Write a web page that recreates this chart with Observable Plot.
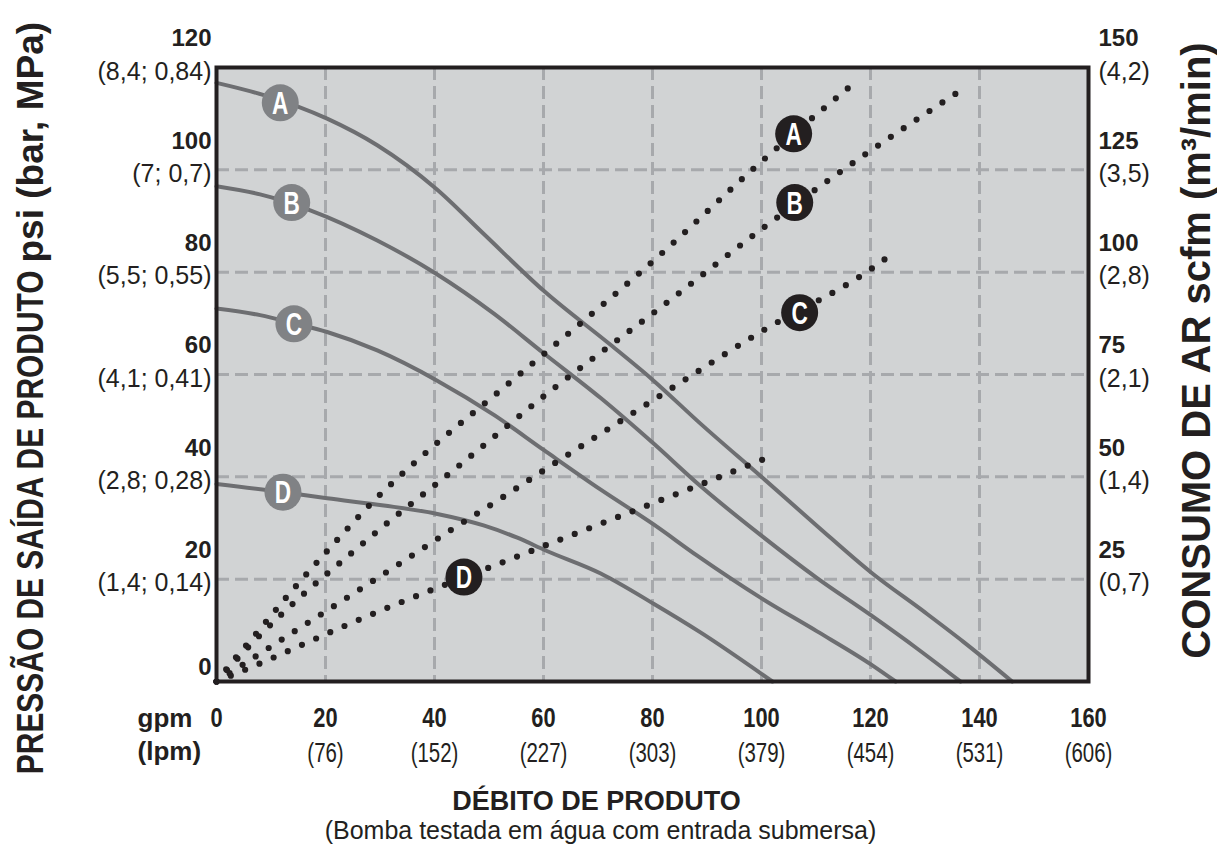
<!DOCTYPE html>
<html><head><meta charset="utf-8">
<script src="https://cdn.jsdelivr.net/npm/d3@7"></script>
<script src="https://cdn.jsdelivr.net/npm/@observablehq/plot@0.6"></script>
<style>body{margin:0;background:#fff} svg{display:block}</style>
</head><body><div id="chart"></div>
<script>
// ---- axis tick data ----
const xTicks = [0, 20, 40, 60, 80, 100, 120, 140, 160];
const lpmLabels = ["", "(76)", "(152)", "(227)", "(303)", "(379)", "(454)", "(531)", "(606)"];
const psiTicks = [0, 20, 40, 60, 80, 100, 120];
const psiSub = ["", "(1,4; 0,14)", "(2,8; 0,28)", "(4,1; 0,41)", "(5,5; 0,55)", "(7; 0,7)", "(8,4; 0,84)"];
const scfmTicks = [25, 50, 75, 100, 125, 150];
const scfmSub = ["(0,7)", "(1,4)", "(2,1)", "(2,8)", "(3,5)", "(4,2)"];

// ---- outlet pressure curves [gpm, psi] ----
const pressA = [[0,117],[8.7,114.6],[20.3,110],[29.5,104.8],[40.3,96.3],[49,87.5],[60.1,76.3],[72.3,65.8],[80.2,58.8],[88.8,50.4],[100.1,39.9],[110.2,30.4],[120,21.4],[130,13.5],[137,7.8],[146,0]];
const pressB = [[0,96.8],[8,95.2],[17.2,92.1],[29.5,86.2],[40.3,79.7],[50.9,71.9],[60.1,64.1],[70.5,55.4],[80.2,46.5],[88.8,38.2],[100.1,28.4],[110.2,20.2],[120,13],[128.6,6.4],[136.5,0]];
const pressC = [[0,72.9],[8,71.6],[14.2,70],[20.3,68.3],[29.5,64.7],[40.5,58.8],[50.9,52.1],[60.1,45.2],[70.5,37.5],[80.2,30.7],[88.2,24.6],[100.1,16.2],[110.2,9.8],[120,3.4],[124.6,0]];
const pressD = [[0,38.6],[12.2,37],[20.3,35.8],[30.7,34.4],[40.3,32.8],[49,30.5],[55.2,28.1],[60.4,25.6],[70.5,21.1],[80.2,15.2],[88.8,9.6],[102,0]];

// ---- air consumption curves [gpm, scfm] ----
const airA = [[0,0],[3,5],[6.2,10],[13.6,21.8],[21.2,33.2],[28.9,44.2],[37.4,54.7],[52.7,71.8],[81.2,104],[99.8,126.8],[117.2,146.4]];
const airB = [[0,0],[7.3,10.4],[15.5,20.8],[24,30.5],[32.7,40.2],[41.5,49.5],[61.3,71],[81.1,91],[100,110.5],[119.6,129.3],[136.1,144]];
const airC = [[0,0],[7.5,6.4],[14.6,12.5],[24.1,20.6],[33.6,28.8],[42.9,36.9],[52.5,45],[59.6,51.2],[71.4,61.3],[81,69.5],[100.1,85.6],[119.7,100.4],[124.3,104.8]];
const airD = [[0,0],[7.8,4.3],[15.4,8.8],[23.2,13.4],[31,17.8],[38.8,22],[49.4,27.5],[57.2,31.6],[72.9,39.8],[86.1,46.7],[101.7,55]];

// ---- curve labels ----
const pressLabels = [{k:"A", gpm:11.7, psi:113.1},{k:"B", gpm:13.8, psi:93.6},{k:"C", gpm:14.2, psi:69.9},{k:"D", gpm:12.2, psi:37}];
const airLabels = [{k:"A", gpm:105.9, scfm:133.8},{k:"B", gpm:106.1, scfm:117},{k:"C", gpm:107, scfm:90.1},{k:"D", gpm:45.4, scfm:25.5}];

// ---- titles ----
const yTitleCaps = "PRESSÃO DE SAÍDA DE PRODUTO";
const yTitleUnits = "psi (bar, MPa)";
const y2Title = "CONSUMO DE AR scfm (m³/min)";
const xTitle = "DÉBITO DE PRODUTO";
const xSubtitle = "(Bomba testada em água com entrada submersa)";
const xUnit = "gpm";
const xUnit2 = "(lpm)";

// right axis scale: scfm per psi (150 scfm at 120 psi)
const SCFM_PER_PSI = scfmTicks[scfmTicks.length - 1] / psiTicks[psiTicks.length - 1];

const toRows = (arr, curve, key) => arr.map(([gpm, v]) => ({curve, gpm, [key]: v}));
const pressure = [...toRows(pressA,"A","psi"), ...toRows(pressB,"B","psi"), ...toRows(pressC,"C","psi"), ...toRows(pressD,"D","psi")];
const air = [...toRows(airA,"A","scfm"), ...toRows(airB,"B","scfm"), ...toRows(airC,"C","scfm"), ...toRows(airD,"D","scfm")];

const SANS = "'Liberation Sans', Arial, Helvetica, sans-serif";
const INK = "#231f20";
const NARROW = () => "narrow";   // per-text aria-label tags used to condense glyphs
const NARROW2 = () => "narrow2";
const NARROW3 = () => "narrow3";

const chart = Plot.plot({
  width: 1217, height: 845,
  marginLeft: 216, marginRight: 129, marginTop: 67, marginBottom: 164,
  style: {fontFamily: SANS, background: "#fff", color: INK},
  x: {domain: [0, 160], axis: null},
  y: {domain: [0, 120], axis: null},
  marks: [
    Plot.frame({fill: "#d1d3d4"}),
    Plot.ruleX(xTicks.slice(1, -1), {stroke: "#a7a9ac", strokeWidth: 3, strokeDasharray: "13,6"}),
    Plot.ruleY(psiTicks.slice(1, -1), {stroke: "#a7a9ac", strokeWidth: 3, strokeDasharray: "13,6"}),
    Plot.line(pressure, {x: "gpm", y: "psi", z: "curve", stroke: "#6d6e71", strokeWidth: 4, curve: "monotone-x"}),
    Plot.line(air, {x: "gpm", y: d => d.scfm / SCFM_PER_PSI, z: "curve", stroke: INK, strokeWidth: 6.2,
      strokeDasharray: "0,15.5", strokeLinecap: "round", curve: "monotone-x"}),
    Plot.dot(pressLabels, {x: "gpm", y: "psi", r: 18.5, fill: "#808285"}),
    Plot.text(pressLabels, {x: "gpm", y: "psi", text: "k", fill: "white", fontWeight: "bold", fontSize: 31, dy: 1, ariaLabel: NARROW3}),
    Plot.dot(airLabels, {x: "gpm", y: d => d.scfm / SCFM_PER_PSI, r: 18.5, fill: INK}),
    Plot.text(airLabels, {x: "gpm", y: d => d.scfm / SCFM_PER_PSI, text: "k", fill: "white", fontWeight: "bold", fontSize: 31, dy: 1, ariaLabel: NARROW3}),
    Plot.frame({stroke: INK, strokeWidth: 4}),

    // bottom axis
    Plot.text(xTicks, {x: d => d, text: d => String(d), frameAnchor: "bottom", lineAnchor: "middle", dy: 37, fontWeight: "bold", fontSize: 28, ariaLabel: NARROW2}),
    Plot.text(xTicks, {x: d => d, text: (d, i) => lpmLabels[i], frameAnchor: "bottom", lineAnchor: "middle", dy: 72, fontSize: 28, ariaLabel: NARROW3}),
    Plot.text([xUnit], {text: d => d, frameAnchor: "bottom-left", lineAnchor: "middle", dx: -79, dy: 37, textAnchor: "start", fontWeight: "bold", fontSize: 26}),
    Plot.text([xUnit2], {text: d => d, frameAnchor: "bottom-left", lineAnchor: "middle", dx: -79, dy: 70, textAnchor: "start", fontWeight: "bold", fontSize: 26}),
    Plot.text([xTitle], {text: d => d, frameAnchor: "bottom", lineAnchor: "middle", textAnchor: "middle", dx: -56, dy: 120, fontWeight: "bold", fontSize: 27}),
    Plot.text([xSubtitle], {text: d => d, frameAnchor: "bottom", lineAnchor: "middle", textAnchor: "middle", dx: -52, dy: 149, fontSize: 25}),

    // left axis
    Plot.text(psiTicks.slice(1), {y: d => d, text: d => String(d), frameAnchor: "left", lineAnchor: "middle", dx: -5, dy: -29, textAnchor: "end", fontWeight: "bold", fontSize: 24}),
    Plot.text(psiTicks.slice(1), {y: d => d, text: d => psiSub[psiTicks.indexOf(d)], frameAnchor: "left", lineAnchor: "middle", dx: -5, dy: 4, textAnchor: "end", fontSize: 25}),
    Plot.text(psiTicks.slice(0, 1), {y: d => d, text: d => String(d), frameAnchor: "left", lineAnchor: "middle", dx: -5, dy: -14, textAnchor: "end", fontWeight: "bold", fontSize: 24}),
    Plot.text([yTitleCaps], {text: d => d, frameAnchor: "left", lineAnchor: "middle", dx: -185, dy: -104, rotate: -90, textAnchor: "end", fontWeight: "bold", fontSize: 36.5, ariaLabel: NARROW}),
    Plot.text([yTitleUnits], {text: d => d, frameAnchor: "left", lineAnchor: "middle", dx: -185, dy: -112, rotate: -90, textAnchor: "start", fontWeight: "bold", fontSize: 37}),

    // right axis
    Plot.text(scfmTicks, {y: d => d / SCFM_PER_PSI, text: d => String(d), frameAnchor: "right", lineAnchor: "middle", dx: 10, dy: -29, textAnchor: "start", fontWeight: "bold", fontSize: 24}),
    Plot.text(scfmTicks, {y: d => d / SCFM_PER_PSI, text: (d, i) => scfmSub[i], frameAnchor: "right", lineAnchor: "middle", dx: 10, dy: 4, textAnchor: "start", fontSize: 25}),
    Plot.text([y2Title], {text: d => d, frameAnchor: "right", lineAnchor: "middle", textAnchor: "middle", dx: 109, dy: -24, rotate: -90, fontWeight: "bold", fontSize: 40})
  ]
});

// condensed lettering (no narrow font installed): squeeze glyphs along the reading direction,
// appended to the position transform that Plot already set on each text
function condense(label, k) {
  d3.select(chart).selectAll("text").filter(function() {
    return this.getAttribute("aria-label") === label;
  }).each(function() {
    const t = this.getAttribute("transform") || "";
    this.setAttribute("transform", `${t} scale(${k},1)`.trim());
  });
}
condense("narrow", 0.82);
condense("narrow2", 0.78);
condense("narrow3", 0.73);
document.getElementById("chart").append(chart);
</script>
</body></html>
